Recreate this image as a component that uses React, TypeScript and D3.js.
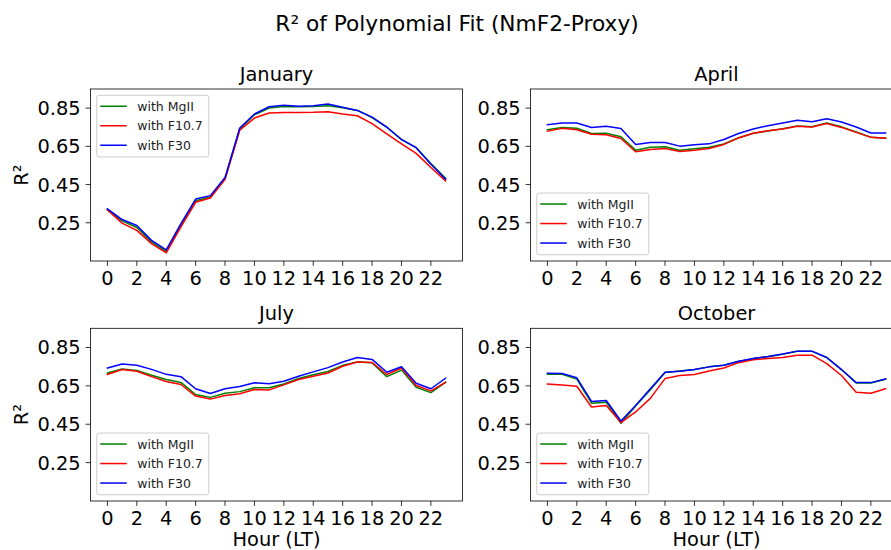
import React from 'react';
import * as d3 from 'd3';

const HOURS = [0, 1, 2, 3, 4, 5, 6, 7, 8, 9, 10, 11, 12, 13, 14, 15, 16, 17, 18, 19, 20, 21, 22, 23];
const X_TICKS = [0, 2, 4, 6, 8, 10, 12, 14, 16, 18, 20, 22];
const Y_TICKS = [0.25, 0.45, 0.65, 0.85];
const SERIES_NAMES = ['with MgII', 'with F10.7', 'with F30'];
const SERIES_COLORS = ['green', 'red', 'blue'];
const MONTHS = ['January', 'April', 'July', 'October'];
const LEGEND_LOC = ['upper', 'lower', 'lower', 'lower'];

const janMgII = [0.32, 0.26, 0.225, 0.15, 0.1, 0.235, 0.365, 0.385, 0.48, 0.74, 0.815, 0.85, 0.858, 0.857, 0.858, 0.862, 0.852, 0.838, 0.8, 0.75, 0.685, 0.643, 0.56, 0.483];
const janF107 = [0.317, 0.248, 0.21, 0.141, 0.093, 0.228, 0.357, 0.38, 0.478, 0.734, 0.798, 0.824, 0.827, 0.827, 0.828, 0.831, 0.819, 0.81, 0.769, 0.715, 0.663, 0.613, 0.539, 0.469];
const janF30 = [0.323, 0.267, 0.236, 0.158, 0.108, 0.245, 0.374, 0.392, 0.487, 0.746, 0.819, 0.857, 0.865, 0.86, 0.862, 0.871, 0.855, 0.838, 0.803, 0.751, 0.686, 0.643, 0.556, 0.478];

const aprMgII = [0.737, 0.748, 0.745, 0.717, 0.718, 0.7, 0.63, 0.645, 0.648, 0.63, 0.637, 0.645, 0.662, 0.695, 0.718, 0.73, 0.742, 0.757, 0.752, 0.772, 0.752, 0.725, 0.698, 0.693];
const aprF107 = [0.729, 0.744, 0.737, 0.713, 0.711, 0.691, 0.622, 0.634, 0.639, 0.623, 0.63, 0.639, 0.66, 0.694, 0.718, 0.732, 0.741, 0.755, 0.751, 0.769, 0.749, 0.723, 0.697, 0.692];
const aprF30 = [0.763, 0.772, 0.772, 0.749, 0.755, 0.743, 0.66, 0.67, 0.67, 0.651, 0.658, 0.663, 0.686, 0.717, 0.741, 0.758, 0.772, 0.786, 0.779, 0.794, 0.777, 0.751, 0.72, 0.72];

const julMgII = [0.717, 0.738, 0.73, 0.705, 0.683, 0.668, 0.605, 0.59, 0.612, 0.62, 0.64, 0.64, 0.66, 0.688, 0.708, 0.725, 0.757, 0.775, 0.77, 0.698, 0.732, 0.643, 0.615, 0.668];
const julF107 = [0.709, 0.735, 0.726, 0.698, 0.673, 0.657, 0.597, 0.581, 0.6, 0.609, 0.631, 0.629, 0.655, 0.683, 0.7, 0.717, 0.752, 0.774, 0.772, 0.709, 0.743, 0.652, 0.624, 0.669];
const julF30 = [0.743, 0.764, 0.757, 0.736, 0.71, 0.698, 0.635, 0.61, 0.635, 0.647, 0.666, 0.661, 0.674, 0.7, 0.723, 0.745, 0.774, 0.798, 0.788, 0.721, 0.75, 0.664, 0.635, 0.69];

const octMgII = [0.71, 0.71, 0.685, 0.56, 0.565, 0.455, 0.545, 0.63, 0.72, 0.728, 0.735, 0.749, 0.757, 0.777, 0.792, 0.802, 0.815, 0.83, 0.83, 0.797, 0.735, 0.665, 0.665, 0.685];
const octF107 = [0.66, 0.655, 0.648, 0.54, 0.548, 0.459, 0.514, 0.585, 0.688, 0.704, 0.709, 0.728, 0.743, 0.771, 0.786, 0.793, 0.798, 0.81, 0.81, 0.766, 0.704, 0.617, 0.612, 0.635];
const octF30 = [0.716, 0.714, 0.692, 0.569, 0.574, 0.467, 0.548, 0.635, 0.721, 0.726, 0.735, 0.749, 0.757, 0.778, 0.793, 0.803, 0.816, 0.831, 0.831, 0.798, 0.735, 0.667, 0.667, 0.686];

const PANEL_DATA = [
  [janMgII, janF107, janF30],
  [aprMgII, aprF107, aprF30],
  [julMgII, julF107, julF30],
  [octMgII, octF107, octF30],
];

const FONT = '"DejaVu Sans", sans-serif';
const W = 891;
const H = 550;
const COLS = [[90.5, 462.5], [530.5, 902.5]];
const ROWS = [[89, 261], [328.3, 501]];
const FS = 19.4;
const TFS = 21.7;
const LFS = 12.5;

function Panel({ idx }: { idx: number }) {
  const col = idx % 2;
  const row = Math.floor(idx / 2);
  const [x0, x1] = COLS[col];
  const [y0, y1] = ROWS[row];
  const x = d3.scaleLinear().domain([-1.15, 24.15]).range([x0, x1]);
  const y = d3.scaleLinear().domain([0.05, 0.95]).range([y1, y0]);
  const line = d3.line<number>().x((_, i) => x(HOURS[i])).y((d) => y(d));
  const series = PANEL_DATA[idx];
  const tick = 4.9;
  const pad = 4.9;

  const pad2 = LFS * 0.5;
  const boxW = 112;
  const boxH = 61.7;
  const lx = x0 + pad2;
  const ly = LEGEND_LOC[idx] === 'upper' ? y0 + pad2 : y1 - pad2 - boxH;

  return (
    <g>
      <defs>
        <clipPath id={`clip${idx}`}>
          <rect x={x0} y={y0} width={x1 - x0} height={y1 - y0} />
        </clipPath>
      </defs>
      <rect x={x0} y={y0} width={x1 - x0} height={y1 - y0} fill="white" />
      <g clipPath={`url(#clip${idx})`}>
        {series.map((s, i) => (
          <path key={i} d={line(s) || ''} fill="none" stroke={SERIES_COLORS[i]} strokeWidth={1.5} strokeLinejoin="round" strokeLinecap="square" />
        ))}
      </g>
      <rect x={x0} y={y0} width={x1 - x0} height={y1 - y0} fill="none" stroke="black" strokeWidth={0.8} />
      {X_TICKS.map((t) => (
        <g key={t}>
          <line x1={x(t)} x2={x(t)} y1={y1} y2={y1 + tick} stroke="black" strokeWidth={0.8} />
          <text x={x(t)} y={y1 + tick + pad + 14.2} textAnchor="middle" fontSize={FS} fontFamily={FONT} fill="black">{t}</text>
        </g>
      ))}
      {Y_TICKS.map((t) => (
        <g key={t}>
          <line x1={x0 - tick} x2={x0} y1={y(t)} y2={y(t)} stroke="black" strokeWidth={0.8} />
          <text x={x0 - tick - pad} y={y(t) + 7} textAnchor="end" fontSize={FS} fontFamily={FONT} fill="black">{t.toFixed(2)}</text>
        </g>
      ))}
      <text x={(x0 + x1) / 2} y={y0 - 8.3} textAnchor="middle" fontSize={FS} fontFamily={FONT} fill="black">{MONTHS[idx]}</text>
      {col === 0 && (
        <text transform={`translate(28,${(y0 + y1) / 2}) rotate(-90)`} textAnchor="middle" fontSize={FS} fontFamily={FONT} fill="black">R²</text>
      )}
      {row === 1 && (
        <text x={(x0 + x1) / 2} y={546} textAnchor="middle" fontSize={FS} fontFamily={FONT} fill="black">Hour (LT)</text>
      )}
      <g>
        <rect x={lx} y={ly} width={boxW} height={boxH} rx={2.5} fill="white" fillOpacity={0.8} stroke="#cccccc" strokeWidth={1} />
        {SERIES_NAMES.map((n, i) => {
          const ry = ly + 11 + i * 19.5;
          return (
            <g key={n}>
              <line x1={lx + 3.5} x2={lx + 3.5 + 26.5} y1={ry} y2={ry} stroke={SERIES_COLORS[i]} strokeWidth={1.5} />
              <text x={lx + 40.5} y={ry + 4.5} fontSize={LFS} fontFamily={FONT} fill="#222">{n}</text>
            </g>
          );
        })}
      </g>
    </g>
  );
}

export default function App() {
  return (
    <svg width={W} height={H} style={{ position: 'absolute', left: 0, top: 0, display: 'block', background: 'white' }} viewBox={`0 0 ${W} ${H}`}>
      <rect x={0} y={0} width={W} height={H} fill="white" />
      <text x={457} y={31} textAnchor="middle" fontSize={TFS} fontFamily={FONT} fill="black">R² of Polynomial Fit (NmF2-Proxy)</text>
      {MONTHS.map((_, i) => (
        <Panel key={i} idx={i} />
      ))}
    </svg>
  );
}
